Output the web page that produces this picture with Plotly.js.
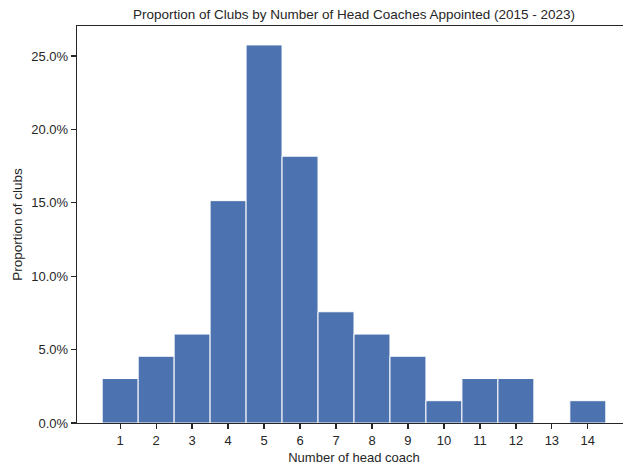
<!DOCTYPE html>
<html>
<head>
<meta charset="utf-8">
<script src="https://cdn.plot.ly/plotly-3.0.1.min.js"></script>
<style>
html,body{margin:0;padding:0;overflow:hidden;background:#fff;}
#chart{width:632px;height:466px;}
</style>
</head>
<body>
<div id="chart"></div>
<script>
const coaches = [1,2,3,4,5,6,7,8,9,10,11,12,13,14];
const proportions = [0.0303,0.0455,0.0606,0.1515,0.2576,0.1818,0.0758,0.0606,0.0455,0.0152,0.0303,0.0303,0,0.0152];
const tickLabels = ['1','2','3','4','5','6','7','8','9','10','11','12','13','14'];

const ink = '#262626';
const font = {family:'"Liberation Sans", Arial, sans-serif', size:13, color:ink};

Plotly.newPlot('chart', [{
  type:'bar',
  x: coaches,
  y: proportions,
  width: 1,
  marker:{color:'#4c72b0', line:{color:'#ffffff', width:1}},
  hoverinfo:'skip'
}], {
  width:632, height:466,
  margin:{l:77, r:1, t:26, b:43},
  paper_bgcolor:'#fff', plot_bgcolor:'#fff',
  font: font,
  showlegend:false,
  bargap:0,
  title:{text:'Proportion of Clubs by Number of Head Coaches Appointed (2015 - 2023)', font:{...font, size:13.5}, x:0.5, xref:'paper', y:1, yref:'paper', yanchor:'bottom', pad:{b:7}},
  xaxis:{
    range:[-0.2,15.2], tickmode:'array', tickvals:coaches, ticktext:tickLabels,
    ticks:'outside', ticklen:5, tickwidth:1.25, tickcolor:ink,
    showline:true, linecolor:ink, linewidth:1.25, mirror:true,
    showgrid:false, zeroline:false,
    tickfont:{...font, size:13},
    title:{text:'Number of head coach', font:{...font, size:13}, standoff:6}
  },
  yaxis:{
    range:[0,0.2705], tickformat:'.1%', dtick:0.05, tick0:0,
    ticks:'outside', ticklen:5, tickwidth:1.25, tickcolor:ink,
    showline:true, linecolor:ink, linewidth:1.25, mirror:true,
    showgrid:false, zeroline:false,
    tickfont:{...font, size:13},
    title:{text:'Proportion of clubs', font:{...font, size:13.5}, standoff:5}
  }
}, {staticPlot:true});
</script>
</body>
</html>
